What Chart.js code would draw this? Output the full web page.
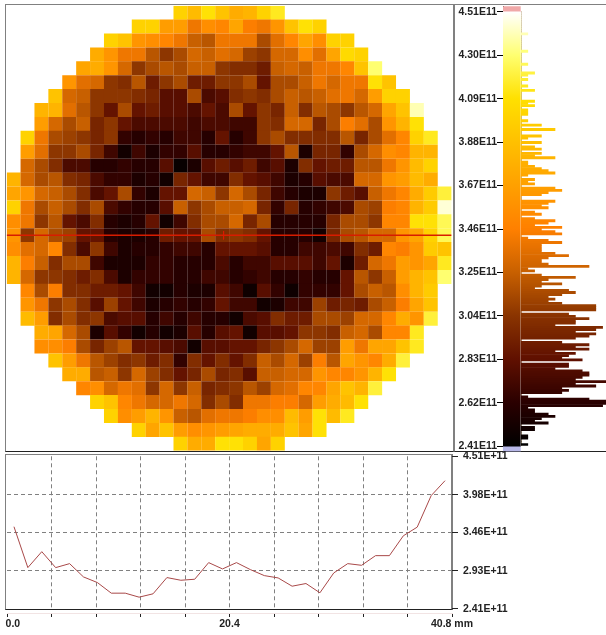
<!DOCTYPE html>
<html lang="en">
<head>
<meta charset="UTF-8">
<title>Wafer map</title>
<script src="https://cdn.jsdelivr.net/npm/chart.js@4"></script>
<style>
  body { margin: 0; background: #fff; }
  #page { position: relative; width: 606px; height: 635px; overflow: hidden; filter: blur(0.3px); }
  canvas { position: absolute; }
  .frame { position: absolute; box-sizing: content-box; border: 1px solid #808080; border-bottom-color: #222; }
</style>
</head>
<body>
<div id="page">
  <div class="frame" style="left:5px;top:4px;width:447px;height:446px"></div>
  <div class="frame" style="left:454px;top:4px;width:160px;height:446px"></div>
  <div class="frame" style="left:5px;top:454px;width:445px;height:154px;border-right-width:2px"></div>
  <canvas id="mapChart" width="460" height="460" style="left:0;top:0"></canvas>
  <canvas id="barChart" width="80" height="460" style="left:450px;top:0"></canvas>
  <canvas id="histChart" width="90" height="460" style="left:516px;top:0"></canvas>
  <canvas id="lineChart" width="606" height="175" style="left:0;top:445px"></canvas>
  <canvas id="mmChart" width="636" height="30" style="left:-30px;top:605px"></canvas>
</div>
<script>
// values are in units of 1E10, one list per wafer row, first cell at mapStart[row]
const mapStart = [12,9,7,6,5,4,3,2,2,1,1,1,0,0,0,0,0,0,0,0,1,1,1,2,2,3,4,5,6,7,9,12];
const mapRows = [
  [40,38.5,41,39,37.5,38,40,41.5],
  [40,40,36.5,36.5,34,35.5,35,37,34.5,34,36,39,41,40],
  [40,39,36,35.5,35,34,32.5,32,34,34,34,31.5,33.5,35,37,35.5,40,40],
  [37.5,36,34,34,32,30.5,31.5,33,32.5,33.5,33,31,30.5,33,33,35.5,33.5,37,40.5,40],
  [37,37.5,36,33,30.5,31.5,32,31.5,32.5,32.5,30.5,30,30,29,32.5,33,32.5,34,34,35,39,43],
  [36,33.5,33,30.5,30,32,29,30.5,31.5,29,29,30.5,30.5,31.5,28.5,31.5,31.5,32.5,34,33,34,34,41,39],
  [39,33,32.5,30.5,30.5,30.5,30,29.5,28,28,31.5,27.5,28,30,30.5,30,31.5,32.5,32,32.5,33.5,34,33,36.5,40,40],
  [38,38,33.5,32,30.5,28.5,31.5,28.5,29,28,28,27.5,28.5,27.5,31.5,28.5,30.5,29.5,32.5,30,32,31.5,30.5,32,33,37,39,44],
  [36.5,33,31.5,32.5,29.5,30.5,28.5,27.5,27.5,27.5,27.5,27,27.5,27.5,27,27,30.5,30,33,33,29.5,31.5,34.5,33.5,31.5,36,38,41],
  [40,34,31.5,31,30.5,29.5,30.5,26.5,26,26.5,26,27,27,26,28.5,26,27,30.5,31.5,30,30,30,30,32,29.5,31.5,33.5,35,40,41.5],
  [36.5,33.5,30.5,30.5,31.5,29.5,27,25,27,25.5,26.5,26.5,28,26,26,26.5,27,27,28.5,32,25.5,29.5,29.5,26.5,31.5,33,35.5,35,38,38],
  [33,31.5,30,27.5,27.5,26,26,26.5,26,26,28,24.5,25.5,28,29,28,29,27,28,25.5,30,28.5,29,29,32,32,34,36,38.5,40],
  [38,33,31.5,32,30,29.5,27.5,26.5,26.5,25.5,26,25,29.5,28.5,27,27,30,28.5,28,27,25.5,26,28,27.5,27.5,33,33,36,36.5,38.5,37.5],
  [37,36,33,32.5,31.5,30,27.5,28.5,31.5,26.5,25.5,28.5,28.5,33,32.5,30.5,33,31.5,29.5,27,26,25.5,25.5,30.5,29,28,32.5,34,35,37.5,39.5,42],
  [40,34,31.5,32.5,31.5,30,31.5,27.5,26.5,26,26,28,32.5,30.5,31.5,32.5,32.5,33,29.5,26.5,29.5,26,26.5,27,27.5,31.5,31,34.5,35,38,39.5,44.5],
  [35.5,34,30.5,32,28.5,27.5,30,26,25.5,26,28.5,25,27,30,31.5,31.5,33,29.5,31.5,26,26,26,26,29.5,31.5,31.5,30.5,35,35,41,41,42.5],
  [36,30.5,33,31.5,31,28.5,28.5,26,25.5,25.5,26,29,28.5,28.5,31.5,30,30.5,30,28.5,26,26,26,25,29.5,31.5,32,33,33,36,37,40,42.5],
  [35.5,33.5,33,35,30,27.5,30.5,27,25.5,26,26,26.5,27,27,26,28.5,28.5,28.5,28,26,26,27,27,27.5,27,30,29,35,34.5,36,39.5,39],
  [38,34.5,32.5,30,31.5,31.5,27,25.5,25.5,25.5,26.5,26.5,26,26,26,27.5,26,27,27,28,28,28,27,28.5,25.5,29,33,34,36.5,36,37,41.5],
  [38,33,30.5,30.5,30,29,30,27.5,25.5,26.5,26.5,26.5,26,26,27,27,26,26.5,27,26,26,26.5,26,26,28.5,32,30.5,32.5,36.5,38,39,43],
  [35,31.5,34.5,30,30,29,29,28.5,27,25,25,26,25.5,25.5,28,27,24.8,28,26.5,24.8,26.5,26.5,26.5,28.5,31.5,32.5,32,35.5,38,39.5],
  [36,34,30.5,31.5,30,28,31,28.5,27,25.5,26,26.5,26,26.5,28.5,27,27,25,25.5,27,27,31,29,29.5,29,31.5,32.5,34.5,37,39],
  [38.5,36.5,30,31.5,30,30.5,27.5,28,28,26,27,26,27,26,26,25,27.5,28,30,29,29,31.5,31.5,31,33,33,35,37.5,36,42],
  [37.5,37,33,31.5,25.5,28,26.5,25,26,25,25.5,28,26,28,28.5,25,28,28,28.5,30.5,30.5,30,32.5,33,31.5,35,35,41.5],
  [35.5,35.5,34.5,31.5,29.5,31,32,28.5,28.5,28,27.5,25,28,28,28.5,28.5,29.5,30.5,31.5,33,31,31,36.5,34,37,37,39,41.5],
  [39,36.5,34,32,31,30,30.5,29,30,26.5,30,28.5,30,28.5,30,32.5,31.5,33,31,34.5,32,37,36,35,37.5,42],
  [37.5,37.5,32,32.5,30.5,33,31,30,28.5,29.5,31.5,29.5,30,28,32.5,32.5,33,33,36,35,35,36,38,41],
  [35,35.5,33,34,33.5,30.5,33,30.5,32.5,29.5,30,30.5,32,31,33,33.5,35,35,37,39,38,42],
  [40,39,35,34,33,33,34,33,30,31.5,30,34,34,34.5,34.5,33,36.5,37.5,38.5,41],
  [40,35.5,36.5,38,36,32.5,32,33.5,34,34,34.5,35.5,35.5,38.5,36.5,41,38.5,41.5],
  [40,37,39,36.5,35.5,36,36.5,37,37.5,37.5,37.5,39,37,41],
  [40,37.5,37.5,41,41,40,37,40]
];
const scanRow = 16.5;
const scanMark = 15.6;

// colour scale of the map
const scaleTicks = [4.51,4.30,4.09,3.88,3.67,3.46,3.25,3.04,2.83,2.62,2.41];
const scaleColors = ['#ffffff','#ffff70','#ffe000','#ffc000','#ffa000','#ff8000','#c86000','#8a3400','#601000','#2a0000','#000000'];

// histogram counts, bin 0 is the top of the colour bar, ten bins per line
const histCounts = [
  0,0,0,0,0,0,0,0,0,0,
  1,0,0,0,0,0,0,0,1,0,
  0,0,0,0,1,0,0,0,2,1,
  0,1,0,0,1,0,2,0,0,0,
  0,2,1,2,0,1,1,1,0,0,
  1,0,3,0,5,0,0,3,1,0,
  3,0,2,3,0,3,2,5,0,1,
  1,2,3,4,5,1,0,2,1,2,
  0,5,6,4,3,0,0,5,4,3,
  4,0,2,3,0,2,5,4,2,6,
  3,5,6,0,1,4,6,3,3,3,
  3,5,7,4,3,3,4,10,1,2,
  0,3,8,4,3,6,3,2,7,8,
  6,4,5,4,6,11,11,11,0,7,
  8,10,8,8,5,12,11,8,11,10,
  8,0,6,10,8,10,5,8,7,6,
  9,0,7,7,5,9,10,10,9,8,
  13,8,11,6,7,6,0,1,10,13,
  13,12,1,2,2,4,5,3,2,4,
  0,2,2,0,0,1,1,0,0,1
];

// profile along the scan line
const profileMm = [0.64,1.91,3.19,4.46,5.74,7.01,8.29,9.56,10.84,12.11,13.39,14.66,15.94,17.21,18.49,19.76,21.04,22.31,23.59,24.86,26.14,27.41,28.69,29.96,31.24,32.51,33.79,35.06,36.34,37.61,38.89,40.16];
const profileValues = [3.54,2.976,3.196,2.976,3.031,2.848,2.77,2.624,2.624,2.569,2.615,2.839,2.802,2.816,3.045,2.958,3.045,2.949,2.866,2.834,2.72,2.757,2.629,2.903,3.031,3.008,3.141,3.141,3.415,3.534,3.968,4.174];
const profileTicks = [2.41,2.93,3.46,3.98,4.51];
const mmTicks = [0,4.08,8.16,12.24,16.32,20.4,24.48,28.56,32.64,36.72,40.8];
const mmLabels = {0:'    0.0', 20.4:'20.4', 40.8:'40.8 mm'};

const labelFont = { family: 'Liberation Sans', size: 10.5, weight: 'bold' };
const inkColor = '#222';

function levelColor(v) {
  for (let i = 0; i < scaleTicks.length - 1; i++) {
    if (v >= scaleTicks[i + 1]) {
      const t = (v - scaleTicks[i + 1]) / (scaleTicks[i] - scaleTicks[i + 1]);
      const a = scaleColors[i + 1], b = scaleColors[i];
      const c = [1, 3, 5].map(k => {
        const p = parseInt(a.substr(k, 2), 16), q = parseInt(b.substr(k, 2), 16);
        return Math.round(p + (q - p) * t);
      });
      return 'rgb(' + c.join(',') + ')';
    }
  }
  return scaleColors[scaleColors.length - 1];
}

Chart.defaults.animation = false;
Chart.defaults.responsive = false;
Chart.defaults.plugins.legend.display = false;
Chart.defaults.plugins.tooltip.enabled = false;

// wafer map
const cells = [], cellColors = [];
mapRows.forEach((row, r) => {
  row.forEach((v, i) => {
    cells.push({ x: mapStart[r] + i + 0.5, y: r + 0.5 });
    cellColors.push(levelColor(v / 10));
  });
});

new Chart(document.getElementById('mapChart'), {
  type: 'scatter',
  data: {
    datasets: [
      {
        type: 'line',
        data: [{ x: 0, y: scanRow }, { x: 32, y: scanRow }],
        borderColor: '#d81c00',
        borderWidth: 1.6,
        pointRadius: 0
      },
      {
        type: 'line',
        data: [{ x: scanMark, y: scanRow - 0.3 }, { x: scanMark, y: scanRow + 0.3 }],
        borderColor: '#d81c00',
        borderWidth: 1,
        pointRadius: 0
      },
      {
        data: cells,
        pointStyle: 'rect',
        pointRadius: 9.9,
        pointBorderWidth: 0,
        pointBackgroundColor: cellColors
      }
    ]
  },
  options: {
    layout: { autoPadding: false, padding: { left: 6.7, top: 5.7, right: 8.4, bottom: 9.2 } },
    scales: {
      x: { type: 'linear', display: false, min: 0, max: 32 },
      y: { type: 'linear', display: false, min: 0, max: 32, reverse: true }
    }
  }
});

// colour bar with its value axis
new Chart(document.getElementById('barChart'), {
  type: 'bar',
  data: {
    labels: ['scale'],
    datasets: [
      {
        data: [[2.41, 4.51]],
        backgroundColor: ctx => {
          const { chart } = ctx;
          if (!chart.chartArea) return '#000';
          const y = chart.scales.y;
          const g = chart.ctx.createLinearGradient(0, y.getPixelForValue(4.51), 0, y.getPixelForValue(2.41));
          scaleTicks.forEach((v, i) => g.addColorStop((4.51 - v) / 2.1, scaleColors[i]));
          return g;
        }
      },
      { data: [[4.51, 4.537]], backgroundColor: '#f0a8a8' },
      { data: [[2.384, 2.41]], backgroundColor: '#b8b8e8' }
    ]
  },
  options: {
    layout: { autoPadding: false, padding: { right: 9.3, top: 5.5, bottom: 8.5 } },
    datasets: { bar: { grouped: false, barPercentage: 1, categoryPercentage: 1 } },
    scales: {
      x: { display: false },
      y: {
        type: 'linear',
        min: 2.384,
        max: 4.537,
        afterFit: s => { s.width = 53; },
        afterBuildTicks: s => { s.ticks = scaleTicks.map(v => ({ value: v })); },
        border: { color: '#000', width: 1 },
        grid: { drawOnChartArea: false, tickLength: 6, tickColor: '#000' },
        ticks: {
          autoSkip: false,
          padding: 0,
          color: inkColor,
          font: labelFont,
          callback: v => v.toFixed(2) + 'E11'
        }
      }
    }
  }
});

// histogram of the map values, one category per bin
new Chart(document.getElementById('histChart'), {
  type: 'bar',
  data: {
    labels: histCounts.map((c, b) => b),
    datasets: [{
      data: histCounts,
      backgroundColor: histCounts.map((c, b) => levelColor(4.51 - 2.1 * (b + 0.5) / 200)),
      barPercentage: 1,
      categoryPercentage: 1
    }]
  },
  options: {
    indexAxis: 'y',
    layout: { autoPadding: false, padding: { left: 5, top: 11, bottom: 14.2 } },
    scales: {
      x: { type: 'linear', display: false, min: 0, max: 12.5 },
      y: {
        afterFit: s => { s.width = 0; },
        border: { color: '#c4b49a', width: 1 },
        grid: { display: false },
        ticks: { display: false }
      }
    }
  }
});

// line profile
new Chart(document.getElementById('lineChart'), {
  type: 'line',
  data: {
    labels: profileMm,
    datasets: [{
      data: profileMm.map((m, i) => ({ x: m, y: profileValues[i] })),
      borderColor: '#a84848',
      borderWidth: 1,
      pointRadius: 0,
      tension: 0
    }]
  },
  options: {
    layout: { autoPadding: false, padding: { left: 7, top: 10.7, bottom: 6.4 } },
    scales: {
      x: {
        type: 'linear',
        min: 0,
        max: 40.8,
        afterFit: s => { s.height = 0; },
        afterBuildTicks: s => { s.ticks = mmTicks.map(v => ({ value: v })); },
        border: { display: false, dash: [4, 3] },
        grid: {
          drawTicks: false,
          color: c => (c.tick && (c.tick.value === 0 || c.tick.value === 40.8)) ? 'transparent' : '#808080'
        },
        ticks: { display: false }
      },
      y: {
        type: 'linear',
        position: 'right',
        min: 2.41,
        max: 4.51,
        afterFit: s => { s.width = 154; },
        afterBuildTicks: s => { s.ticks = profileTicks.map(v => ({ value: v })); },
        border: { display: false, dash: [4, 3] },
        grid: {
          tickLength: 6,
          tickColor: inkColor,
          tickBorderDash: [],
          color: c => (c.tick && (c.tick.value === 2.41 || c.tick.value === 4.51)) ? 'transparent' : '#808080'
        },
        ticks: {
          autoSkip: false,
          padding: 5,
          color: inkColor,
          font: labelFont,
          callback: v => v.toFixed(2) + 'E+11'
        }
      }
    }
  }
});

// mm axis under the profile
new Chart(document.getElementById('mmChart'), {
  type: 'line',
  data: { datasets: [{ data: [] }] },
  options: {
    layout: { autoPadding: false, padding: { left: 37, right: 154 } },
    scales: {
      x: {
        type: 'linear',
        min: 0,
        max: 40.8,
        afterFit: s => { s.height = 22; },
        afterBuildTicks: s => { s.ticks = mmTicks.map(v => ({ value: v })); },
        border: { color: '#f2e4e4', width: 1 },
        grid: { drawOnChartArea: false, tickLength: 4, tickColor: inkColor },
        ticks: {
          autoSkip: false,
          maxRotation: 0,
          padding: 1,
          color: inkColor,
          font: labelFont,
          callback: v => mmLabels[v] || ''
        }
      },
      y: { display: false }
    }
  }
});
</script>
</body>
</html>
